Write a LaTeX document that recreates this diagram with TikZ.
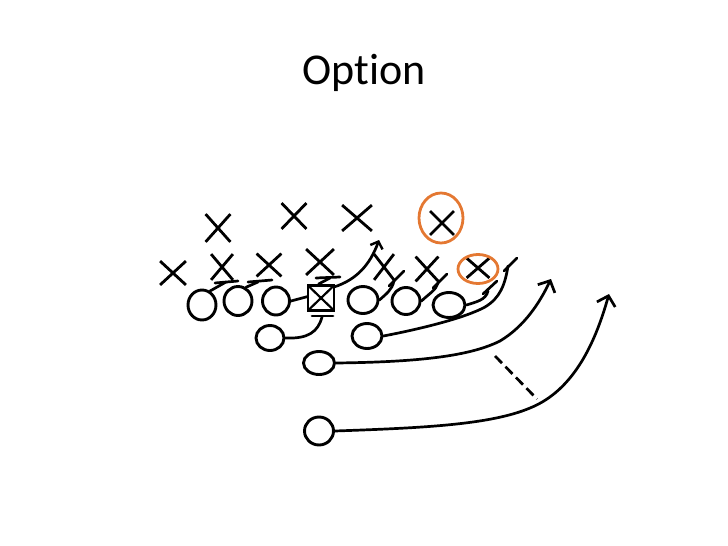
\documentclass[tikz,border=0pt]{standalone}
\usepackage{fontspec}
\setmainfont{Carlito}[Ligatures={NoCommon}]
\usetikzlibrary{shapes.geometric,shapes.misc,arrows.meta}
\definecolor{hiorange}{RGB}{228,120,50}
\begin{document}
\begin{tikzpicture}[x=1pt,y=-1pt,
  player/.style={draw, ellipse, line width=2.9pt, inner sep=0pt},
  defender/.style={draw, cross out, line width=2.8pt, inner sep=0pt},
  route/.style={line width=2.7pt, line cap=round},
  hilite/.style={draw=hiorange, ellipse, line width=2.8pt, inner sep=0pt},
  bigtip/.style={-{Straight Barb[length=9pt,width=19pt,line width=2.7pt]}},
  smalltip/.style={-{Straight Barb[length=6pt,width=13pt,line width=2.4pt]}}]
\useasboundingbox (0,0) rectangle (728,546);
\node[font=\fontsize{44}{44}\selectfont, anchor=base] (title) at (364,84) {Option};

% defense
\node[defender, minimum width=22pt, minimum height=25pt] (d1) at (218,228) {};
\node[defender, minimum width=22pt, minimum height=23pt] (d2) at (294,216) {};
\node[defender, minimum width=27pt, minimum height=23pt] (d3) at (357,218) {};
\node[defender, minimum width=23pt, minimum height=21pt] (d4) at (173,273) {};
\node[defender, minimum width=19pt, minimum height=23pt] (d5) at (222,267) {};
\node[defender, minimum width=22pt, minimum height=20pt] (d6) at (269,265) {};
\node[defender, minimum width=25pt, minimum height=23pt] (d7) at (320,262) {};
\node[defender, minimum width=17pt, minimum height=23pt] (d8) at (384,267) {};
\node[defender, minimum width=20pt, minimum height=22pt] (d9) at (427,269) {};
\node[defender, minimum width=20pt, minimum height=17pt] (d10) at (478,268) {};
\node[defender, minimum width=21pt, minimum height=21pt] (d11) at (442,223) {};
\node[hilite, minimum width=44pt, minimum height=50pt] (h1) at (441,218) {};
\node[hilite, minimum width=40pt, minimum height=29pt] (h2) at (478,269) {};

% offense
\node[player, minimum width=28pt, minimum height=30pt] (o1) at (202,305) {};
\node[player, minimum width=28pt, minimum height=29pt] (o2) at (238,301) {};
\node[player, minimum width=27pt, minimum height=28pt] (o3) at (276,301) {};
\node[player, minimum width=30pt, minimum height=27pt] (o4) at (363,300) {};
\node[player, minimum width=28pt, minimum height=27pt] (o5) at (406,301) {};
\node[player, minimum width=32pt, minimum height=25pt] (o6) at (449,305) {};
\node[player, minimum width=30pt, minimum height=25pt] (te) at (367,336) {};
\node[player, minimum width=28pt, minimum height=25pt] (rb1) at (270,338) {};
\node[player, minimum width=31pt, minimum height=23pt] (qb) at (319,363) {};
\node[player, minimum width=29pt, minimum height=28pt] (rb2) at (319,431) {};

% route ends and marks
\coordinate (g1a) at (226,282); \coordinate (g1l) at (215,283); \coordinate (g1r) at (238,281);
\coordinate (g2a) at (258,282); \coordinate (g2l) at (248,282); \coordinate (g2r) at (272,280);
\coordinate (ca) at (330,278); \coordinate (cl) at (316,278); \coordinate (cr) at (340,277);
\coordinate (cbl) at (312,316); \coordinate (cbr) at (333,316); \coordinate (cb) at (322,317);
\coordinate (pull) at (379,240);
\coordinate (e4) at (394,281); \coordinate (t4a) at (389,286); \coordinate (t4b) at (404,271);
\coordinate (e5) at (438,283); \coordinate (t5a) at (433,288); \coordinate (t5b) at (447,274);
\coordinate (e6) at (488,291); \coordinate (t6a) at (483,294); \coordinate (t6b) at (497,281);
\coordinate (ete) at (508,266); \coordinate (tta) at (504,271); \coordinate (ttb) at (517,258);
\coordinate (eqb) at (551,279);
\coordinate (erb) at (609,294);
\coordinate (p1) at (495,356); \coordinate (p2) at (537,399);

% center with route through it
\draw[route] (o3.east) -- (321,293);
\draw[route, smalltip] (321,293) -- (334,287) .. controls (356,280) and (370,265) .. (pull);
\node[draw, fill=white, line width=2.9pt, minimum width=26pt, minimum height=25pt, inner sep=0pt,
  path picture={\draw[line width=2.2pt] (path picture bounding box.south west) -- (path picture bounding box.north east)
   (path picture bounding box.north west) -- (path picture bounding box.south east);}] (c) at (321,298) {};

% blocks
\draw[route] (o1.60) -- (g1a); \draw[route] (g1l) -- (g1r);
\draw[route] (o2.60) -- (g2a); \draw[route] (g2l) -- (g2r);
\draw[route] (c.100) -- (ca); \draw[route] (cl) -- (cr);
\draw[route] (cbl) -- (cbr);
\draw[route] (rb1.east) .. controls (308,339) and (318,332) .. (cb);
\draw[route] (o4.east) .. controls (386,294) and (392,290) .. (e4); \draw[route] (t4a) -- (t4b);
\draw[route] (o5.east) .. controls (430,293) and (436,290) .. (e5); \draw[route] (t5a) -- (t5b);
\draw[route] (o6.east) .. controls (476,302) and (486,300) .. (e6); \draw[route] (t6a) -- (t6b);
\draw[route] (te.east) .. controls (420,329) and (465,318) .. (485,307) .. controls (500,298) and (505,285) .. (ete);
\draw[route] (tta) -- (ttb);

% option routes
\draw[route, bigtip] (qb.east) .. controls (420,362) and (470,356) .. (500,341) .. controls (525,326) and (540,302) .. (eqb);
\draw[route, bigtip] (rb2.east) .. controls (420,428) and (490,425) .. (530,408) .. controls (575,390) and (596,340) .. (erb);
\draw[route, line cap=butt, dash pattern=on 10pt off 5pt] (p1) -- (p2);
\end{tikzpicture}
\end{document}
